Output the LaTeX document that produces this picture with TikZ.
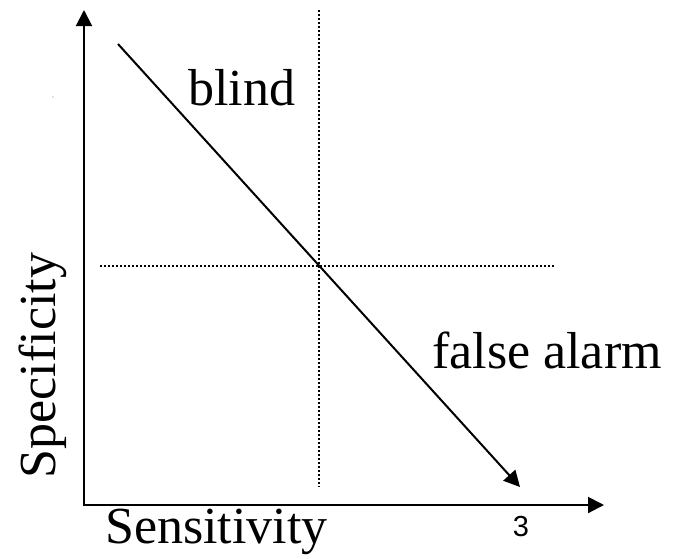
\documentclass[tikz,border=0pt]{standalone}
\usepackage{fontspec}
\setmainfont{Liberation Serif}
\newfontfamily\digitfont{Liberation Sans}
\usetikzlibrary{arrows.meta}
\tikzset{
  axisline/.style={line width=2pt,-{Triangle[length=16pt,width=16pt]}},
  diagline/.style={line width=2pt,-{Triangle[length=16pt,width=16pt]}},
  dotline/.style={line width=1.8pt,dash pattern=on 1.8pt off 2.2pt},
  bigtext/.style={font=\fontsize{52}{60}\selectfont,inner sep=0pt},
}
\begin{document}
\begin{tikzpicture}[x=1pt,y=-1pt]
\useasboundingbox (0,0) rectangle (684,558);
% coordinates
\coordinate (O) at (84,505);
\coordinate (ytip) at (84,10);
\coordinate (xtip) at (604,505);
\coordinate (dstart) at (118,44);
\coordinate (dend) at (520,487);
\coordinate (vtop) at (319,10);
\coordinate (vbot) at (319,487);
\coordinate (hleft) at (100,266);
\coordinate (hright) at (555,266);
% dotted lines
\draw[dotline] (vtop) -- (vbot);
\draw[dotline] (hleft) -- (hright);
% axes
\draw[axisline] ([yshift=1pt]O) -- (ytip);
\draw[axisline] ([xshift=-1pt]O) -- (xtip);
% diagonal
\draw[diagline] (dstart) -- (dend);
% stray mark
\fill[gray] (53,97) circle (0.7pt);
% labels
\node[bigtext,anchor=base west] (blind) at (188,105) {blind};
\node[bigtext,anchor=base west] (falsealarm) at (432,368) {false alarm};
\node[bigtext,anchor=base west] (sens) at (105,543) {Sensitivity};
\node[bigtext,anchor=base,rotate=90] (spec) at (55,365.5) {Specificity};
\node[font=\digitfont\fontsize{29}{34}\selectfont,inner sep=0pt] (pagenum) at (521,527) {3};
\end{tikzpicture}
\end{document}
